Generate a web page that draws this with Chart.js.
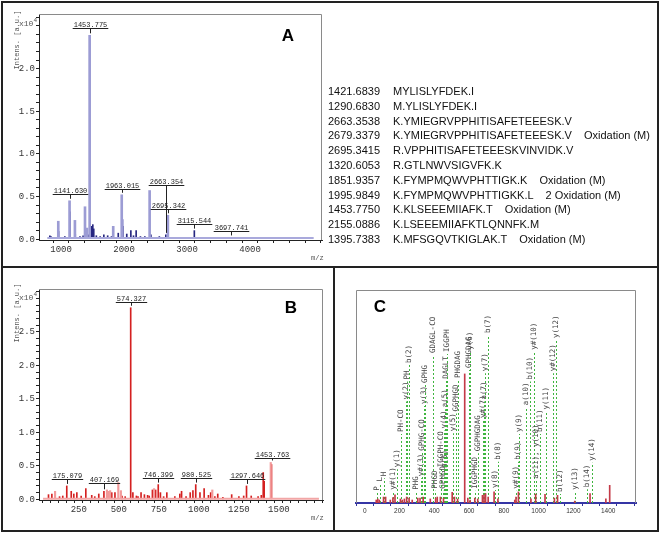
<!DOCTYPE html>
<html>
<head>
<meta charset="utf-8">
<script src="https://cdn.jsdelivr.net/npm/chart.js@4"></script>
<style>
  body { margin: 0; background: #fff; width: 662px; height: 536px; overflow: hidden; position: relative; font-family: "Liberation Sans", Arial, sans-serif; }
  canvas { position: absolute; }
  .box { position: absolute; border: 2px solid #222; box-sizing: border-box; }
  .rule { position: absolute; background: #222; }
  .letter { position: absolute; font: bold 17px "Liberation Sans", Arial, sans-serif; transform: translate(-50%, -50%); }
  .note { position: absolute; font: 7px "Liberation Mono", monospace; color: #555; white-space: nowrap; }
  .note sup { font-size: 6px; }
  .vertical { transform: translate(-50%, -50%) rotate(-90deg); }
  #peptides { position: absolute; left: 328px; top: 84px; font: 11px "Liberation Sans", Arial, sans-serif; line-height: 14.8px; white-space: pre; color: #111; }
  #peptides .mass { display: inline-block; width: 65px; }
  #peptides .mod { margin-left: 12px; }
</style>
</head>
<body>
<canvas id="chart-a" width="334" height="266" style="left:0;top:0"></canvas>
<canvas id="chart-b" width="334" height="262" style="left:0;top:268px"></canvas>
<canvas id="chart-c" width="322" height="262" style="left:336px;top:269px"></canvas>

<div id="peptides"></div>

<div class="letter" style="left:288px;top:36px">A</div>
<div class="letter" style="left:291px;top:308px">B</div>
<div class="letter" style="left:380px;top:307px">C</div>

<div class="note vertical" style="left:17px;top:40px">Intens. [a.u.]</div>
<div class="note" style="left:19px;top:17px;font-size:8px">x10<sup>4</sup></div>
<div class="note" style="left:311px;top:254px">m/z</div>
<div class="note vertical" style="left:17px;top:313px">Intens. [a.u.]</div>
<div class="note" style="left:19px;top:291px;font-size:8px">x10<sup>4</sup></div>
<div class="note" style="left:311px;top:514px">m/z</div>

<div class="box" style="left:1px;top:1px;width:658px;height:531px"></div>
<div class="rule" style="left:1px;top:266px;width:658px;height:2px"></div>
<div class="rule" style="left:333px;top:266px;width:2px;height:266px"></div>

<script>
// Panel A - peptide mass fingerprint (x10^4 intensity)
const aLightMz = [956, 1135, 1220, 1380, 1410, 1453.775, 1828, 1963.015, 1973, 2406, 2695.342];
const aLightInt = [0.21, 0.45, 0.22, 0.38, 0.13, 2.39, 0.15, 0.52, 0.23, 0.57, 0.28];
const aDarkMz = [822, 840, 900, 960, 1060, 1141.63, 1225, 1300, 1350, 1440, 1484, 1504, 1519, 1560, 1620, 1679, 1740, 1800, 1908, 1983, 2043, 2108, 2150, 2192, 2260, 2330, 2426, 2560, 2663.354, 2700, 2954, 3050, 3115.544, 3250, 3400, 3697.741];
const aDarkInt = [0.04, 0.03, 0.02, 0.09, 0.03, 0.32, 0.06, 0.03, 0.04, 0.05, 0.15, 0.17, 0.12, 0.04, 0.03, 0.05, 0.04, 0.03, 0.07, 0.15, 0.06, 0.1, 0.04, 0.1, 0.03, 0.03, 0.05, 0.03, 0.05, 0.04, 0.02, 0.02, 0.1, 0.02, 0.01, 0.02];
const aLabelMz = [1141.63, 1453.775, 1963.015, 2663.354, 2695.342, 3115.544, 3697.741];
const aLabelLevel = [0.53, 2.47, 0.59, 0.64, 0.355, 0.18, 0.1];
const aXMajor = [1000, 2000, 3000, 4000];
const aYMajor = [0, 0.5, 1, 1.5, 2];

// Panel B - MS/MS of 1453 (x10^4 intensity)
const bLightMz = [102, 426, 436, 446, 497, 513, 720, 1084, 1449];
const bLightInt = [0.12, 0.14, 0.12, 0.13, 0.25, 0.13, 0.16, 0.14, 0.55];
const bDarkMz = [61, 82, 130, 150, 175.079, 203, 219, 238, 265, 294, 331, 350, 375, 407.169, 456, 476, 520, 540, 574.327, 588, 610, 620, 639, 660, 680, 690, 710, 730, 746.399, 760, 780, 800, 850, 881, 892, 920, 946, 963, 980.525, 1007, 1033, 1060, 1074, 1100, 1118, 1150, 1205, 1250, 1280, 1297.646, 1327, 1370, 1390, 1402, 1408, 1453.763];
const bDarkInt = [0.07, 0.08, 0.04, 0.05, 0.2, 0.12, 0.08, 0.1, 0.05, 0.16, 0.06, 0.04, 0.08, 0.12, 0.1, 0.1, 0.05, 0.04, 2.86, 0.1, 0.05, 0.04, 0.1, 0.07, 0.06, 0.05, 0.14, 0.14, 0.22, 0.1, 0.04, 0.1, 0.04, 0.08, 0.12, 0.04, 0.1, 0.13, 0.22, 0.1, 0.16, 0.06, 0.1, 0.04, 0.08, 0.03, 0.07, 0.04, 0.05, 0.2, 0.05, 0.04, 0.06, 0.4, 0.27, 0.52];
const bLabelMz = [175.079, 407.169, 574.327, 746.399, 980.525, 1297.646, 1453.763];
const bLabelLevel = [0.3, 0.24, 2.95, 0.32, 0.32, 0.3, 0.61];
const bXMajor = [250, 500, 750, 1000, 1250, 1500];
const bYMajor = [0, 0.5, 1, 1.5, 2, 2.5];

// Panel C - annotated fragment spectrum (relative intensity)
const cMz = [66, 75, 84, 108, 120, 147, 162, 174, 205, 216, 228, 241, 255, 273, 305, 318, 336, 377, 408, 417, 435, 453, 503, 516, 534, 575, 593, 606, 633, 650, 677, 686, 695, 710, 744, 766, 863, 870, 884, 956, 983, 1037, 1091, 1109, 1208, 1296, 1387, 1409];
const cInt = [1.4, 1.9, 1.4, 2.8, 2.8, 1.4, 2.5, 3.8, 1.9, 1.4, 1.9, 2.8, 2.3, 1.4, 2.3, 2.3, 2.8, 1.9, 2.3, 2.8, 2.8, 2.3, 5.0, 2.8, 1.9, 60.6, 2.3, 1.4, 2.3, 1.9, 3.6, 3.8, 4.4, 2.8, 5.2, 1.9, 1.4, 2.8, 5.2, 1.9, 4.2, 4.1, 2.3, 3.6, 0.9, 4.4, 1.9, 8.3];
const ionMz = [72, 90, 113, 165, 185, 208, 236, 241, 255, 293, 322, 330, 341, 349, 390, 406, 436, 450, 462, 458, 464, 468, 472, 508, 527, 536, 597, 604, 635, 653, 680, 686, 694, 711, 749, 767, 869, 882, 889, 929, 952, 974, 983, 1010, 1042, 1085, 1103, 1121, 1211, 1276, 1306];
const ionHeight = [4.8, 9.2, 11.6, 5.3, 15.8, 32.4, 47.6, 57, 64.8, 5.3, 11.6, 23.6, 45.5, 55.4, 69.5, 5.8, 15.8, 5.8, 15.5, 34, 44, 57.4, 70, 32.7, 42, 57.7, 62.4, 71, 5.8, 23.3, 39, 47.6, 60.9, 78.9, 6.1, 19.4, 5.8, 19.4, 32.4, 45, 57, 71, 10.5, 32.4, 42.9, 60.9, 76.5, 4.2, 5.3, 6.4, 18.9];
const ionText = ["P", "L", "H", "y#(1)", "y(1)", "PH-CO", "y(2)", "PH", "b(2)", "PHG", "y#(3)", "GPHG-CO", "y(3)", "GPHG", "GDAGL-CO", "PHGD", "IGGPH-CO", "GPHGD", "b(5)", "y(4)", "a(5)", "DAGLT", "IGGPH", "y(5)", "GGPHGD", "PHGDAG", "GPHGDAG", "y(6)", "IGGPHGD", "GGPHGDAG", "y#(7)", "a(7)", "y(7)", "b(7)", "y(8)", "b(8)", "y#(9)", "b(9)", "y(9)", "a(10)", "b(10)", "y#(10)", "a(11), y(10)", "b(11)", "y(11)", "y#(12)", "y(12)", "b(12)", "y(13)", "b(14)", "y(14)"];
const cXMajor = [0, 200, 400, 600, 800, 1000, 1200, 1400];

// Peptide match list
const peptideMass = ["1421.6839", "1290.6830", "2663.3538", "2679.3379", "2695.3415", "1320.6053", "1851.9357", "1995.9849", "1453.7750", "2155.0886", "1395.7383"];
const peptideSeq = ["MYLISLYFDEK.I", "M.YLISLYFDEK.I", "K.YMIEGRVPPHITISAFETEEESK.V", "K.YMIEGRVPPHITISAFETEEESK.V", "R.VPPHITISAFETEEESKVINVIDK.V", "R.GTLNWVSIGVFK.K", "K.FYMPMQWVPHTTIGK.K", "K.FYMPMQWVPHTTIGKK.L", "K.KLSEEEMIIAFK.T", "K.LSEEEMIIAFKTLQNNFK.M", "K.MFSGQVTKIGLAK.T"];
const peptideMod = ["", "", "", "Oxidation (M)", "", "", "Oxidation (M)", "2 Oxidation (M)", "Oxidation (M)", "", "Oxidation (M)"];

document.getElementById("peptides").innerHTML = peptideMass
  .map((m, i) => `<div><span class="mass">${m}</span>${peptideSeq[i]}${peptideMod[i] ? `<span class="mod">${peptideMod[i]}</span>` : ""}</div>`)
  .join("");

function steps(from, to, step) {
  const out = [];
  for (let v = from; v <= to + step / 1000; v += step) out.push(Math.round(v * 1000) / 1000);
  return out;
}

function isMajor(list, v) {
  return list.some((m) => Math.abs(m - v) < 1e-6);
}

function points(mz, int) {
  return mz.map((m, i) => ({ x: m, y: int[i] }));
}

// thin grey frame round the plot area
const plotFrame = {
  id: "plotFrame",
  afterDraw(chart) {
    const { ctx, chartArea: a } = chart;
    const withLeft = chart.options.plugins.plotFrame.left;
    ctx.save();
    ctx.strokeStyle = "#8a8a8a";
    ctx.lineWidth = 1;
    ctx.beginPath();
    if (withLeft) {
      ctx.moveTo(a.left + 0.5, a.bottom);
      ctx.lineTo(a.left + 0.5, a.top + 0.5);
    } else {
      ctx.moveTo(a.left, a.top + 0.5);
    }
    ctx.lineTo(a.right - 0.5, a.top + 0.5);
    ctx.lineTo(a.right - 0.5, a.bottom);
    ctx.stroke();
    ctx.restore();
  },
};

// m/z labels with underline and a tick down to the peak
const peakLabels = {
  id: "peakLabels",
  afterDatasetsDraw(chart) {
    const cfg = chart.options.plugins.peakLabels;
    const { ctx, scales: { x, y } } = chart;
    ctx.save();
    ctx.font = '7px "Liberation Mono"';
    ctx.fillStyle = "#222";
    ctx.strokeStyle = "#222";
    ctx.lineWidth = 1;
    ctx.textAlign = "center";
    ctx.textBaseline = "bottom";
    cfg.mz.forEach((mz, i) => {
      const px = Math.round(x.getPixelForValue(mz)) + 0.5;
      const py = Math.round(y.getPixelForValue(cfg.level[i])) + 0.5;
      const text = mz.toFixed(3);
      const w = ctx.measureText(text).width;
      let top = 0;
      cfg.peaks.forEach((set) =>
        set[0].forEach((m, j) => {
          if (Math.abs(m - mz) < 12) top = Math.max(top, set[1][j]);
        })
      );
      const peakY = y.getPixelForValue(top) - 2;
      ctx.fillText(text, px, py);
      ctx.beginPath();
      ctx.moveTo(px - w / 2 - 1, py);
      ctx.lineTo(px + w / 2 + 1, py);
      ctx.moveTo(px, py);
      ctx.lineTo(px, peakY);
      ctx.stroke();
    });
    ctx.restore();
  },
};

// green dashed fragment markers with rotated names
const ionLabels = {
  id: "ionLabels",
  beforeDatasetsDraw(chart) {
    const { ctx, scales: { x, y } } = chart;
    const base = y.getPixelForValue(0);
    ctx.save();
    ctx.font = '7.5px "DejaVu Sans Mono"';
    ctx.fillStyle = "#444";
    ctx.textBaseline = "middle";
    ctx.textAlign = "left";
    ionMz.forEach((mz, i) => {
      const px = Math.round(x.getPixelForValue(mz)) + 0.5;
      const top = y.getPixelForValue(ionHeight[i]);
      ctx.strokeStyle = "#3fb53f";
      ctx.lineWidth = 1;
      ctx.setLineDash([2, 2]);
      ctx.beginPath();
      ctx.moveTo(px, base);
      ctx.lineTo(px, top);
      ctx.stroke();
      ctx.setLineDash([]);
      ctx.save();
      ctx.translate(px, top - 2);
      ctx.rotate(-Math.PI / 2);
      ctx.fillText(ionText[i], 0, 0);
      ctx.restore();
    });
    ctx.restore();
  },
};

function axisLook(extra) {
  return Object.assign(
    {
      type: "linear",
      grid: { drawOnChartArea: false, drawTicks: true, tickLength: 3, color: "#222" },
      border: { color: "#222", width: 1 },
    },
    extra
  );
}

function spectrumChart(id, s) {
  return new Chart(document.getElementById(id), {
    type: "bar",
    data: {
      datasets: [
        {
          type: "line",
          data: points(s.baseMz, s.baseInt),
          borderColor: s.baseColor,
          borderWidth: 2,
          pointRadius: 0,
        },
        {
          data: points(s.lightMz, s.lightInt),
          backgroundColor: s.lightColor,
          barThickness: s.lightWidth,
          grouped: false,
        },
        {
          data: points(s.darkMz, s.darkInt),
          backgroundColor: s.darkColor,
          barThickness: 1,
          grouped: false,
        },
      ],
    },
    options: {
      responsive: false,
      animation: false,
      layout: { padding: s.padding },
      plugins: {
        legend: { display: false },
        tooltip: { enabled: false },
        plotFrame: { left: false },
        peakLabels: { mz: s.labelMz, level: s.labelLevel, peaks: [[s.lightMz, s.lightInt], [s.darkMz, s.darkInt]] },
      },
      scales: {
        x: axisLook({
          min: s.xMin,
          max: s.xMax,
          afterBuildTicks: (sc) => (sc.ticks = s.xTicks.map((v) => ({ value: v }))),
          afterFit: (sc) => (sc.height = s.xHeight),
          ticks: {
            autoSkip: false,
            maxRotation: 0,
            padding: 1,
            color: "#333",
            font: { family: "Liberation Mono", size: 9 },
            callback: (v) => (isMajor(s.xMajor, v) ? String(v) : ""),
          },
        }),
        y: axisLook({
          min: s.yMin,
          max: s.yMax,
          afterBuildTicks: (sc) => (sc.ticks = s.yTicks.map((v) => ({ value: v }))),
          afterFit: (sc) => (sc.width = 39),
          ticks: {
            autoSkip: false,
            padding: 1,
            color: "#333",
            font: { family: "Liberation Mono", size: 9 },
            callback: (v) => (isMajor(s.yMajor, v) ? v.toFixed(1) : ""),
          },
        }),
      },
    },
    plugins: [plotFrame, peakLabels],
  });
}

spectrumChart("chart-a", {
  lightMz: aLightMz, lightInt: aLightInt, darkMz: aDarkMz, darkInt: aDarkInt,
  baseMz: [782, 5010], baseInt: [0.012, 0.012],
  lightColor: "#9c9cd4", darkColor: "#262680", baseColor: "#a9a9dc", lightWidth: 2,
  labelMz: aLabelMz, labelLevel: aLabelLevel,
  xMin: 782, xMax: 5010, xTicks: steps(1000, 5000, 250), xMajor: aXMajor,
  yMin: -0.01, yMax: 2.64, yTicks: steps(0, 2.6, 0.1), yMajor: aYMajor,
  xHeight: 26, padding: { left: 0, top: 14, right: 12, bottom: 0 },
});

spectrumChart("chart-b", {
  lightMz: bLightMz, lightInt: bLightInt, darkMz: bDarkMz, darkInt: bDarkInt,
  baseMz: [27, 1750], baseInt: [0.01, 0.01],
  lightColor: "#f29a9a", darkColor: "#d42020", baseColor: "#f2a6a6", lightWidth: 1.5,
  labelMz: bLabelMz, labelLevel: bLabelLevel,
  xMin: 27, xMax: 1750, xTicks: steps(50, 1750, 50), xMajor: bXMajor,
  yMin: -0.01, yMax: 3.14, yTicks: steps(0, 3.1, 0.1), yMajor: bYMajor,
  xHeight: 30, padding: { left: 0, top: 21, right: 11, bottom: 0 },
});

new Chart(document.getElementById("chart-c"), {
  type: "bar",
  data: {
    datasets: [
      {
        data: points(cMz, cInt),
        backgroundColor: "#c43a48",
        barThickness: 1,
      },
    ],
  },
  options: {
    responsive: false,
    animation: false,
    layout: { padding: { left: 20, top: 21, right: 22, bottom: 0 } },
    plugins: {
      legend: { display: false },
      tooltip: { enabled: false },
      plotFrame: { left: true },
    },
    scales: {
      x: {
        type: "linear",
        min: 0,
        max: 1510,
        afterBuildTicks: (sc) => (sc.ticks = steps(0, 1500, 100).map((v) => ({ value: v }))),
        afterFit: (sc) => (sc.height = 28),
        grid: { drawOnChartArea: false, drawTicks: true, tickLength: 3, color: "#333399" },
        border: { color: "#3535a5", width: 2 },
        ticks: {
          autoSkip: false,
          maxRotation: 0,
          padding: 1,
          color: "#333",
          font: { family: "Liberation Sans", size: 6.5 },
          callback: (v) => (isMajor(cXMajor, v) ? String(v) : ""),
        },
      },
      y: { display: false, min: 0, max: 100 },
    },
  },
  plugins: [plotFrame, ionLabels],
});
</script>
</body>
</html>
